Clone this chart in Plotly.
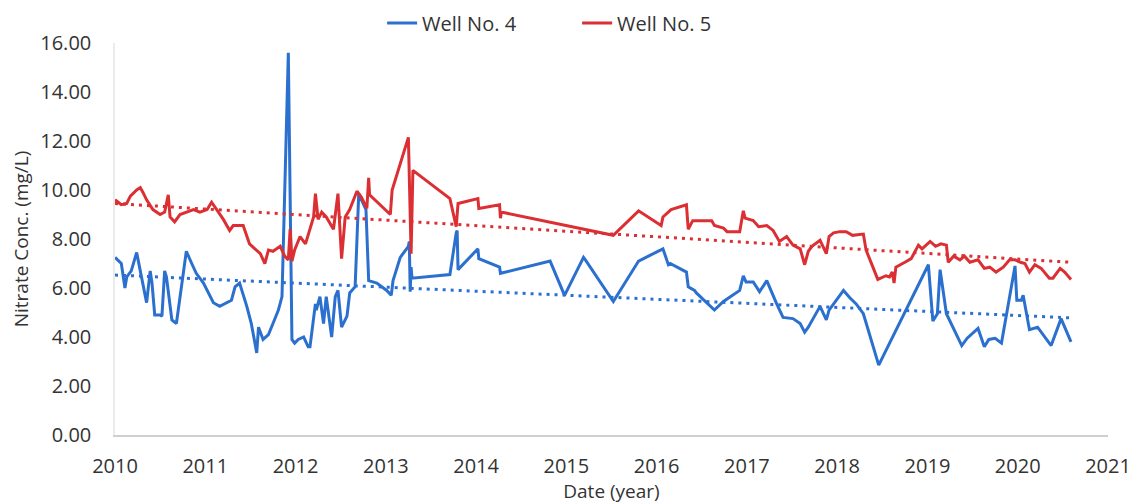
import plotly.graph_objects as go

# Well No. 4 (decimal year, nitrate mg/L)
well4_year = [
    2010.00, 2010.07, 2010.11, 2010.13, 2010.18, 2010.24, 2010.28, 2010.33, 2010.35, 2010.39,
    2010.41, 2010.44, 2010.50, 2010.52, 2010.55, 2010.57, 2010.63, 2010.68, 2010.74, 2010.79,
    2010.85, 2010.90, 2010.98, 2011.05, 2011.09, 2011.16, 2011.24, 2011.29, 2011.33, 2011.38,
    2011.46, 2011.51, 2011.57, 2011.59, 2011.64, 2011.70, 2011.75, 2011.81, 2011.85, 2011.92,
    2011.96, 2011.99, 2012.03, 2012.09, 2012.14, 2012.16, 2012.22, 2012.23, 2012.27, 2012.31,
    2012.34, 2012.40, 2012.44, 2012.47, 2012.51, 2012.57, 2012.60, 2012.66, 2012.70, 2012.78,
    2012.81, 2012.90, 2013.01, 2013.06, 2013.08, 2013.16, 2013.25, 2013.26, 2013.27, 2013.28,
    2013.29, 2013.71, 2013.78, 2013.79, 2013.80, 2014.02, 2014.03, 2014.26, 2014.27, 2014.82,
    2014.98, 2015.19, 2015.22, 2015.52, 2015.80, 2016.07, 2016.13, 2016.15, 2016.33, 2016.35,
    2016.42, 2016.44, 2016.64, 2016.74, 2016.92, 2016.96, 2016.99, 2017.07, 2017.14, 2017.22,
    2017.33, 2017.40, 2017.51, 2017.59, 2017.64, 2017.68, 2017.81, 2017.88, 2017.91, 2017.96,
    2018.07, 2018.14, 2018.21, 2018.29, 2018.46, 2019.01, 2019.06, 2019.11, 2019.14, 2019.21,
    2019.38, 2019.44, 2019.56, 2019.63, 2019.68, 2019.75, 2019.82, 2019.97, 2019.99, 2020.04,
    2020.06, 2020.13, 2020.22, 2020.37, 2020.48, 2020.59,
]
well4_no3 = [
    7.25, 7.00, 6.00, 6.45, 6.70, 7.45, 6.70, 5.80, 5.40, 6.70,
    6.20, 4.90, 4.90, 4.85, 6.70, 6.45, 4.70, 4.55, 6.20, 7.50,
    7.00, 6.60, 6.20, 5.65, 5.40, 5.25, 5.40, 5.50, 6.05, 6.20,
    5.25, 4.55, 3.35, 4.40, 3.90, 4.10, 4.55, 5.10, 5.65, 15.60,
    3.90, 3.75, 3.90, 4.00, 3.60, 3.60, 5.35, 5.10, 5.65, 4.55,
    5.65, 4.00, 5.65, 5.90, 4.40, 4.85, 5.80, 6.05, 9.85, 9.20,
    6.30, 6.20, 5.90, 5.70, 6.30, 7.25, 7.70, 7.90, 5.85, 6.85,
    6.40, 6.55, 8.25, 8.35, 6.75, 7.60, 7.20, 6.85, 6.60, 7.10,
    5.70, 7.25, 7.10, 5.45, 7.10, 7.60, 6.95, 7.00, 6.65, 6.05,
    5.90, 5.80, 5.10, 5.45, 5.90, 6.50, 6.25, 6.25, 5.85, 6.30,
    5.35, 4.80, 4.75, 4.55, 4.20, 4.40, 5.25, 4.70, 5.10, 5.35,
    5.90, 5.60, 5.35, 4.95, 2.85, 6.95, 4.65, 4.95, 6.75, 4.95,
    3.65, 3.95, 4.35, 3.60, 3.90, 3.95, 3.75, 6.90, 5.50, 5.50,
    5.70, 4.30, 4.40, 3.65, 4.75, 3.80,
]

# Well No. 5
well5_year = [
    2010.00, 2010.07, 2010.13, 2010.17, 2010.24, 2010.28, 2010.31, 2010.35, 2010.42, 2010.50,
    2010.55, 2010.59, 2010.61, 2010.66, 2010.72, 2010.79, 2010.87, 2010.94, 2011.02, 2011.07,
    2011.13, 2011.20, 2011.27, 2011.31, 2011.42, 2011.46, 2011.49, 2011.55, 2011.61, 2011.66,
    2011.70, 2011.75, 2011.83, 2011.88, 2011.92, 2011.94, 2011.96, 2011.99, 2012.05, 2012.11,
    2012.16, 2012.20, 2012.22, 2012.25, 2012.29, 2012.34, 2012.42, 2012.47, 2012.51, 2012.55,
    2012.60, 2012.68, 2012.73, 2012.79, 2012.81, 2012.82, 2013.05, 2013.07, 2013.25, 2013.28,
    2013.30, 2013.71, 2013.78, 2013.80, 2014.02, 2014.03, 2014.26, 2014.27, 2014.28, 2015.52,
    2015.80, 2016.05, 2016.07, 2016.16, 2016.33, 2016.35, 2016.40, 2016.61, 2016.64, 2016.74,
    2016.78, 2016.92, 2016.96, 2016.98, 2017.07, 2017.13, 2017.22, 2017.29, 2017.36, 2017.44,
    2017.51, 2017.59, 2017.64, 2017.68, 2017.72, 2017.81, 2017.88, 2017.91, 2017.96, 2018.03,
    2018.10, 2018.17, 2018.29, 2018.32, 2018.45, 2018.54, 2018.58, 2018.61, 2018.63, 2018.65,
    2018.75, 2018.82, 2018.90, 2018.94, 2019.03, 2019.09, 2019.15, 2019.21, 2019.23, 2019.29,
    2019.36, 2019.41, 2019.47, 2019.56, 2019.63, 2019.69, 2019.76, 2019.84, 2019.91, 2019.97,
    2020.03, 2020.08, 2020.13, 2020.19, 2020.26, 2020.35, 2020.39, 2020.47, 2020.52, 2020.59,
]
well5_no3 = [
    9.60, 9.40, 9.45, 9.75, 10.00, 10.10, 9.90, 9.60, 9.20, 9.00,
    9.10, 9.80, 8.90, 8.70, 9.00, 9.10, 9.20, 9.10, 9.20, 9.50,
    9.20, 8.80, 8.35, 8.55, 8.55, 8.10, 7.80, 7.60, 7.40, 7.00,
    7.55, 7.50, 7.70, 7.30, 7.15, 8.40, 7.10, 7.55, 8.10, 7.80,
    8.40, 8.90, 9.85, 8.80, 9.10, 8.90, 8.40, 9.85, 7.20, 8.90,
    9.20, 9.95, 9.70, 9.25, 10.50, 9.80, 9.00, 10.00, 12.15, 7.40,
    10.80, 9.65, 8.50, 9.45, 9.65, 9.25, 9.40, 8.85, 9.10, 8.15,
    9.15, 8.55, 8.90, 9.20, 9.40, 8.40, 8.75, 8.75, 8.55, 8.45,
    8.30, 8.30, 9.15, 8.85, 8.75, 8.50, 8.55, 8.35, 7.90, 8.10,
    7.75, 7.60, 6.95, 7.50, 7.70, 7.95, 7.40, 8.10, 8.25, 8.30,
    8.30, 8.15, 8.20, 7.55, 6.35, 6.50, 6.45, 6.65, 6.20, 6.85,
    7.05, 7.20, 7.75, 7.60, 7.90, 7.70, 7.80, 7.75, 7.05, 7.30,
    7.15, 7.30, 7.05, 7.15, 6.80, 6.85, 6.65, 6.85, 7.15, 7.15,
    7.05, 7.00, 6.65, 6.95, 6.80, 6.40, 6.40, 6.80, 6.65, 6.35,
]

# linear trendline ends (start, end) as drawn
well4_trend = [6.53, 4.78]
well5_trend = [9.45, 7.05]

BLUE = "#2b70cf"
RED = "#dc2f33"
FONT = "Open Sans"

fig = go.Figure()
fig.add_trace(go.Scatter(x=well4_year, y=well4_no3, mode="lines", name="Well No. 4",
                         line=dict(color=BLUE, width=3)))
fig.add_trace(go.Scatter(x=well5_year, y=well5_no3, mode="lines", name="Well No. 5",
                         line=dict(color=RED, width=3)))
# trendlines
fig.add_trace(go.Scatter(x=[well4_year[0], well4_year[-1]], y=well4_trend, mode="lines",
                         showlegend=False, line=dict(color=BLUE, width=3, dash="3px,5px")))
fig.add_trace(go.Scatter(x=[well5_year[0], well5_year[-1]], y=well5_trend, mode="lines",
                         showlegend=False, line=dict(color=RED, width=3, dash="3px,5px")))

# page body adds an 8px offset, so the figure is 8px smaller than the window
fig.update_layout(
    width=1127,
    height=496,
    margin=dict(l=107, r=27, t=35, b=69, autoexpand=False),
    plot_bgcolor="white",
    paper_bgcolor="white",
    font=dict(family=FONT, size=19, color="#333333"),
    showlegend=True,
    legend=dict(
        orientation="h",
        x=0.269,
        xanchor="left",
        y=1.051,
        yanchor="middle",
        font=dict(size=20, color="#333333"),
        entrywidth=150,
        bgcolor="rgba(0,0,0,0)",
    ),
)
fig.update_xaxes(
    range=[2010, 2021],
    tick0=2010,
    dtick=1,
    tickformat="d",
    showgrid=False,
    zeroline=False,
    showline=True,
    linecolor="#cfcfcf",
    linewidth=1.5,
    ticks="outside",
    ticklen=12,
    tickcolor="rgba(0,0,0,0)",
    tickfont=dict(size=20),
    title=dict(text="Date (year)", standoff=3, font=dict(size=19)),
)
fig.update_yaxes(
    range=[0, 16],
    dtick=2,
    tickformat=".2f",
    showgrid=False,
    zeroline=False,
    showline=True,
    linecolor="#ebebeb",
    linewidth=1.5,
    ticks="outside",
    ticklen=18,
    tickcolor="rgba(0,0,0,0)",
    tickfont=dict(size=20),
    title=dict(text="Nitrate Conc. (mg/L)", standoff=8, font=dict(size=19)),
)

fig.write_html("out.html")
